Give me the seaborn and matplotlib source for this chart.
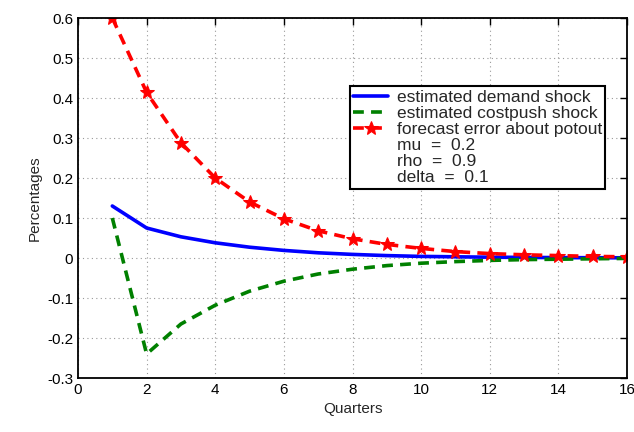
import matplotlib
matplotlib.use("Agg")
import matplotlib.pyplot as plt
import seaborn as sns
import pandas as pd
from matplotlib.lines import Line2D

quarters = list(range(1, 17))
demand = [0.13, 0.075, 0.053, 0.038, 0.027, 0.019, 0.013, 0.009, 0.006, 0.004, 0.003, 0.002, 0.0015, 0.001, 0.0007, 0.0005]
costpush = [0.10, -0.24, -0.165, -0.118, -0.083, -0.058, -0.040, -0.028, -0.019, -0.013, -0.009, -0.006, -0.004, -0.003, -0.002, -0.001]
forecast = [0.60, 0.414, 0.288, 0.200, 0.140, 0.098, 0.068, 0.048, 0.034, 0.024, 0.016, 0.011, 0.008, 0.006, 0.004, 0.003]
xticks = [0, 2, 4, 6, 8, 10, 12, 14, 16]
yticks = [-0.3, -0.2, -0.1, 0, 0.1, 0.2, 0.3, 0.4, 0.5, 0.6]
ytick_labels = ["-0.3", "-0.2", "-0.1", "0", "0.1", "0.2", "0.3", "0.4", "0.5", "0.6"]
params = ["mu  =  0.2", "rho  =  0.9", "delta  =  0.1"]

sns.set_style("white")
plt.rcParams['font.family'] = ['Liberation Sans', 'DejaVu Sans']

df = pd.DataFrame({"q": quarters, "demand": demand, "costpush": costpush, "forecast": forecast})

fig = plt.figure(figsize=(6.34, 4.32), dpi=100)
ax = fig.add_axes([78/634, 1 - 378/432, (627-78)/634, (378-18)/432])

sns.lineplot(data=df, x="q", y="demand", ax=ax, color="#0000ff", lw=2.6, label="estimated demand shock")
sns.lineplot(data=df, x="q", y="costpush", ax=ax, color="#008000", lw=2.6, linestyle=(0, (3, 2)), label="estimated costpush shock")
sns.lineplot(data=df, x="q", y="forecast", ax=ax, color="#ff0000", lw=2.6, linestyle=(0, (3, 2)),
             marker="*", markersize=10, markeredgecolor="#ff0000", label="forecast error about potout")

ax.set_xlim(0, 16)
ax.set_ylim(-0.3, 0.6)
ax.set_xticks(xticks)
ax.set_xticklabels([str(v) for v in xticks])
ax.set_yticks(yticks)
ax.set_yticklabels(ytick_labels)
ax.grid(True, linestyle=(0, (1, 3)), color="#999999", lw=0.8)
ax.tick_params(direction="in", length=5, top=True, right=True, labelsize=11, colors="black", width=1)
for s in ax.spines.values():
    s.set_color("black")
    s.set_linewidth(1.3)
ax.set_xlabel("Quarters", fontsize=11)
ax.set_ylabel("Percentages", fontsize=11)

handles, labels = ax.get_legend_handles_labels()
for p in params:
    handles.append(Line2D([], [], linestyle="none"))
    labels.append(p)
leg = ax.legend(handles, labels, loc="upper left", bbox_to_anchor=(0.495, 0.81), fontsize=12.5,
                frameon=True, fancybox=False, edgecolor="black", framealpha=1,
                handlelength=2.0, handletextpad=0.5, borderpad=0.2, labelspacing=0.05, borderaxespad=0)
leg.get_frame().set_linewidth(1.5)

fig.savefig("out.png", dpi=100)
